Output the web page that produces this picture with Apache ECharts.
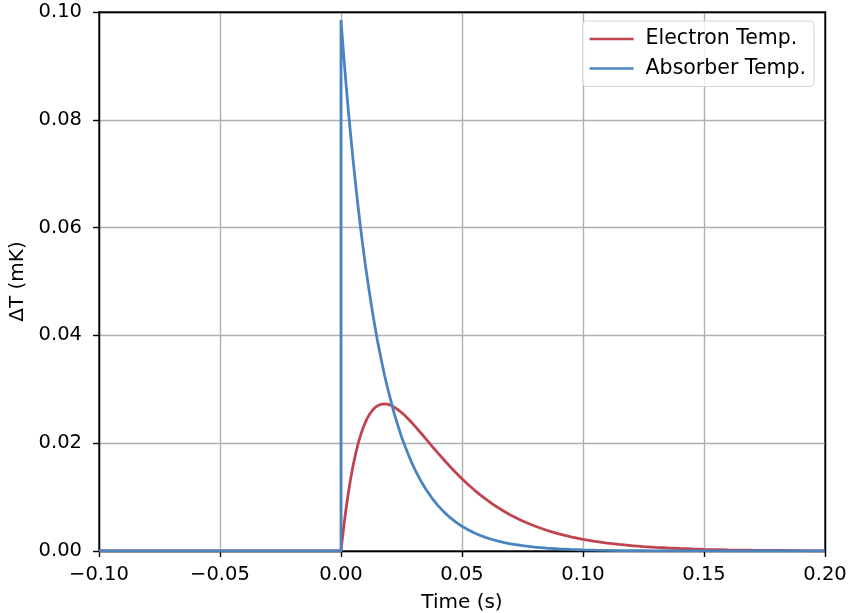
<!DOCTYPE html>
<html>
<head>
<meta charset="utf-8">
<script src="https://cdn.jsdelivr.net/npm/echarts@6/dist/echarts.min.js"></script>
<style>
html,body{margin:0;padding:0;background:#fff;}
#chart{width:848px;height:613px;}
</style>
</head>
<body>
<div id="chart"></div>
<script>
var times = [-0.1, 0, 0, 0.0005, 0.001, 0.0015, 0.002, 0.003, 0.004, 0.005, 0.006, 0.007, 0.008, 0.009, 0.010, 0.011, 0.012, 0.013, 0.014, 0.015, 0.016, 0.017, 0.018, 0.019, 0.020, 0.021, 0.022, 0.0235, 0.025, 0.0265, 0.028, 0.0295, 0.031, 0.033, 0.035, 0.0375, 0.040, 0.0425, 0.045, 0.0475, 0.050, 0.0525, 0.055, 0.0575, 0.060, 0.0625, 0.065, 0.0675, 0.070, 0.075, 0.080, 0.085, 0.090, 0.095, 0.100, 0.105, 0.110, 0.115, 0.120, 0.125, 0.130, 0.135, 0.140, 0.145, 0.150, 0.160, 0.170, 0.180, 0.190, 0.200];
var electron = [0, 0, 0, 0.00206, 0.00398, 0.00582, 0.00754, 0.01067, 0.01343, 0.01585, 0.01795, 0.01979, 0.02135, 0.02269, 0.02381, 0.02474, 0.0255, 0.02611, 0.02658, 0.02692, 0.02713, 0.02725, 0.0273, 0.02724, 0.02712, 0.02694, 0.02669, 0.02623, 0.02569, 0.02508, 0.0244, 0.02369, 0.02293, 0.02189, 0.02085, 0.01951, 0.0182, 0.01693, 0.01569, 0.01452, 0.01339, 0.01234, 0.01135, 0.01042, 0.00956, 0.00875, 0.00802, 0.00733, 0.00669, 0.00558, 0.00463, 0.00384, 0.00318, 0.00263, 0.00217, 0.00179, 0.00148, 0.00122, 0.00101, 0.00083, 0.00068, 0.00056, 0.00046, 0.00038, 0.00031, 0.00021, 0.00014, 0.0001, 0.000065, 0.00004];
var absorber = [0, 0, 0.0985, 0.0955, 0.0926, 0.0898, 0.0871, 0.0819, 0.0771, 0.0725, 0.0682, 0.0641, 0.0603, 0.0567, 0.0533, 0.0502, 0.0472, 0.0444, 0.0417, 0.0392, 0.0369, 0.0347, 0.0326, 0.0307, 0.0289, 0.0272, 0.0255, 0.0233, 0.0212, 0.0194, 0.0177, 0.0161, 0.0147, 0.0130, 0.0115, 0.00987, 0.00847, 0.00726, 0.00623, 0.00535, 0.00458, 0.00393, 0.00337, 0.00289, 0.00248, 0.00213, 0.00183, 0.00157, 0.00134, 0.00099, 0.00073, 0.00054, 0.00039, 0.00029, 0.00021, 0.00016, 0.00012, 0.00008, 0.00006, 0.00005, 0.00003, 0.00002, 0.00002, 0.00001, 0.00001, 0, 0, 0, 0, 0];
var seriesNames = ['Electron Temp.', 'Absorber Temp.'];
var xTicks = {min: -0.1, max: 0.2, step: 0.05};
var yTicks = {min: 0, max: 0.1, step: 0.02};

function pairs(ys){ return times.map(function(t,i){ return [t, ys[i]]; }); }
function fmt(v){ var s = v.toFixed(2); if (Math.abs(v) < 1e-9) s = '0.00'; return s.replace('-', '\u2212'); }

var FONT = 'DejaVu Sans';
var FS = 19.5;
var chart = echarts.init(document.getElementById('chart'), null, {renderer:'canvas'});
var spine = {show: true, onZero: false, lineStyle: {color: '#000', width: 1.4}};
chart.setOption({
  animation: false,
  backgroundColor: '#fff',
  textStyle: {fontFamily: FONT, color: '#000'},
  grid: {left: 99, right: 23, top: 12, bottom: 62, outerBoundsMode: 'none', containLabel: false,
         show: true, borderColor: '#000', borderWidth: 1.4, backgroundColor: 'transparent'},
  legend: {
    orient: 'vertical', right: 34, top: 21,
    data: seriesNames.map(function(n){ return {name: n, icon: 'rect'}; }),
    itemWidth: 44, itemHeight: 2.7, itemGap: 8.5, padding: [7.5, 8, 7.5, 7],
    borderColor: '#d5d5d5', borderWidth: 1, borderRadius: 4,
    backgroundColor: 'rgba(255,255,255,0.8)',
    textStyle: {fontFamily: FONT, fontSize: 20.5, color: '#000', padding: [0,0,0,7]}
  },
  xAxis: [{
    type: 'value', min: xTicks.min, max: xTicks.max, interval: xTicks.step,
    name: 'Time (s)', nameLocation: 'middle', nameGap: 42,
    nameTextStyle: {fontFamily: FONT, fontSize: 20, color: '#000'},
    axisLine: spine,
    axisTick: {show: true, length: 6, lineStyle: {color: '#000', width: 1.4}},
    axisLabel: {fontFamily: FONT, fontSize: FS, color: '#000', margin: 14, formatter: fmt},
    splitLine: {show: true, lineStyle: {color: '#b0b0b0', width: 1.4}}
  }, {
    type: 'value', position: 'top', min: xTicks.min, max: xTicks.max, interval: xTicks.step, z: 4,
    axisLine: spine, axisTick: {show: false}, axisLabel: {show: false}, splitLine: {show: false}
  }],
  yAxis: [{
    type: 'value', min: yTicks.min, max: yTicks.max, interval: yTicks.step,
    name: '\u0394T (mK)', nameLocation: 'middle', nameGap: 63,
    nameTextStyle: {fontFamily: FONT, fontSize: 20, color: '#000'},
    axisLine: spine,
    axisTick: {show: true, length: 6, lineStyle: {color: '#000', width: 1.4}},
    axisLabel: {fontFamily: FONT, fontSize: FS, color: '#000', margin: 17, formatter: fmt},
    splitLine: {show: true, lineStyle: {color: '#b0b0b0', width: 1.4}}
  }, {
    type: 'value', position: 'right', min: yTicks.min, max: yTicks.max, interval: yTicks.step, z: 4,
    axisLine: spine, axisTick: {show: false}, axisLabel: {show: false}, splitLine: {show: false}
  }],
  series: [
    {name: seriesNames[0], type: 'line', data: pairs(electron), showSymbol: false, smooth: false,
     color: '#c0444e', lineStyle: {color: '#c0444e', width: 2.8}, z: 2},
    {name: seriesNames[1], type: 'line', data: pairs(absorber), showSymbol: false, smooth: false,
     color: '#4a84c0', lineStyle: {color: '#4a84c0', width: 2.8}, z: 3}
  ]
});
</script>
</body>
</html>
